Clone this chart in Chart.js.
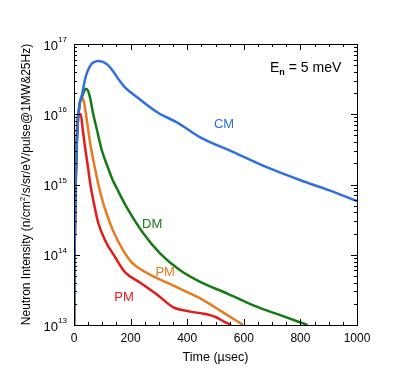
<!DOCTYPE html>
<html>
<head>
<meta charset="utf-8">
<script src="https://cdn.jsdelivr.net/npm/chart.js@4/dist/chart.umd.min.js"></script>
<style>
  body { margin: 0; background: #fff; }
  canvas { display: block; }
</style>
</head>
<body>
<canvas id="chartPulse" width="400" height="370"></canvas>
<script>
// pulse shapes (time in usec, intensity per pulse)
const cmTime = [0, 2, 6, 12, 20, 28, 42, 57, 70, 85, 100, 120, 138, 160, 181, 223, 297, 365, 446, 563, 683, 800, 900, 1000];
const cmVals = [1e13, 1.1e14, 1.1e15, 6e15, 1.4e16, 1.9e16, 3.5e16, 4.9e16, 5.5e16, 5.75e16, 5.6e16, 5e16, 4.1e16, 3.05e16, 2.4e16, 1.75e16, 1.05e16, 7.6e15, 4.7e15, 2.9e15, 1.75e15, 1.15e15, 8.3e14, 5.8e14];

const dmTime = [0, 2, 6, 12, 20, 28, 35, 42, 50, 57, 67, 81, 99, 120, 135, 152, 188, 244, 304, 375, 446, 542, 634, 729, 825];
const dmVals = [1e13, 1.1e14, 1.1e15, 6e15, 1.4e16, 1.75e16, 2.1e16, 2.3e16, 2.15e16, 1.7e16, 1.05e16, 6e15, 3e15, 1.74e15, 1.2e15, 8.7e14, 4.6e14, 2.04e14, 1.05e14, 6e13, 4.1e13, 2.8e13, 1.9e13, 1.38e13, 1e13];

const pmTime = [0, 2, 6, 12, 20, 28, 35, 45, 57, 74, 85, 100, 120, 138, 198, 258, 329, 411, 446, 517, 598];
const pmVals = [1e13, 1.1e14, 1.1e15, 6e15, 1.4e16, 1.7e16, 1.5e16, 8.5e15, 3.9e15, 1.7e15, 1.05e15, 6e14, 3.4e14, 2.2e14, 8.3e13, 5.5e13, 4e13, 2.8e13, 2.4e13, 1.6e13, 1e13];

const pm2Time = [0, 2, 6, 10, 14, 24, 30, 39, 50, 57, 70, 85, 110, 145, 181, 234, 294, 350, 411, 457, 500, 530, 555];
const pm2Vals = [1e13, 1e14, 1e15, 5e15, 1.0e16, 1.0e16, 6.5e15, 3.4e15, 1.7e15, 1.05e15, 5.5e14, 2.9e14, 1.6e14, 9.3e13, 5.6e13, 4e13, 2.7e13, 1.8e13, 1.55e13, 1.45e13, 1.3e13, 1.12e13, 1e13];

const xMajor = [0, 200, 400, 600, 800, 1000];
const yDecades = [13, 14, 15, 16, 17];

const curveLabels = [
  { text: 'CM', t: 530, v: 7.2e15, color: '#2f6fe0' },
  { text: 'DM', t: 276, v: 2.7e14, color: '#157a15' },
  { text: 'PM', t: 322, v: 5.6e13, color: '#e87a1e' },
  { text: 'PM', t: 177, v: 2.5e13, color: '#e41b1b' },
];

const pts = (ts, vs) => ts.map((t, i) => ({ x: t, y: vs[i] }));
const FONT = '"Liberation Sans", Arial, sans-serif';

const frame = {
  id: 'frame',
  afterDraw(chart) {
    const { ctx, chartArea: a, scales: { x, y } } = chart;
    ctx.save();
    ctx.strokeStyle = '#000';
    ctx.lineWidth = 1;
    ctx.strokeRect(a.left + 0.5, a.top + 0.5, a.right - a.left, a.bottom - a.top);

    ctx.beginPath();
    // x ticks every 50, major every 200, bottom and top, inward
    for (let t = 0; t <= 1000; t += 50) {
      const px = Math.round(x.getPixelForValue(t)) + 0.5;
      const len = t % 200 === 0 ? 6 : 3;
      ctx.moveTo(px, a.bottom); ctx.lineTo(px, a.bottom - len);
      ctx.moveTo(px, a.top); ctx.lineTo(px, a.top + len);
    }
    // y log ticks, left and right, inward
    for (const d of yDecades) {
      for (let m = 1; m <= 9; m++) {
        if (d === 17 && m > 1) break;
        const py = Math.round(y.getPixelForValue(m * Math.pow(10, d))) + 0.5;
        const len = m === 1 ? 6 : 3;
        ctx.moveTo(a.left, py); ctx.lineTo(a.left + len, py);
        ctx.moveTo(a.right, py); ctx.lineTo(a.right - len, py);
      }
    }
    ctx.stroke();

    ctx.fillStyle = '#000';
    ctx.font = '12px ' + FONT;
    ctx.textAlign = 'center';
    ctx.textBaseline = 'middle';
    xMajor.forEach(t => ctx.fillText(String(t), x.getPixelForValue(t), a.bottom + 14));
    ctx.font = '12.5px ' + FONT;
    ctx.fillText('Time (\u00b5sec)', (a.left + a.right) / 2, a.bottom + 33);

    yDecades.forEach(d => {
      const py = y.getPixelForValue(Math.pow(10, d));
      ctx.font = '13px ' + FONT;
      ctx.textAlign = 'right';
      ctx.textBaseline = 'middle';
      ctx.fillText('10', a.left - 16, py + 2);
      ctx.font = '8px ' + FONT;
      ctx.textAlign = 'left';
      ctx.fillText(String(d), a.left - 16, py - 4);
    });

    ctx.save();
    ctx.translate(27, (a.top + a.bottom) / 2);
    ctx.rotate(-Math.PI / 2);
    ctx.textBaseline = 'middle';
    ctx.font = '12px ' + FONT;
    const t1 = 'Neutron Intensity (n/cm', t2 = '/s/sr/eV/pulse@1MW&25Hz)';
    const w1 = ctx.measureText(t1).width, w2 = ctx.measureText(t2).width;
    ctx.font = '8px ' + FONT;
    const ws = ctx.measureText('2').width;
    const start = -(w1 + ws + w2) / 2;
    ctx.textAlign = 'left';
    ctx.font = '12px ' + FONT;
    ctx.fillText(t1, start, 0);
    ctx.fillText(t2, start + w1 + ws, 0);
    ctx.font = '8px ' + FONT;
    ctx.fillText('2', start + w1, -4);
    ctx.restore();

    // energy note
    ctx.textAlign = 'left';
    ctx.textBaseline = 'alphabetic';
    ctx.font = '14px ' + FONT;
    let ex = 270;
    ctx.fillText('E', ex, 72);
    ex += ctx.measureText('E').width;
    ctx.font = 'bold 9px ' + FONT;
    ctx.fillText('n', ex, 75);
    ex += ctx.measureText('n').width;
    ctx.font = '14px ' + FONT;
    ctx.fillText(' = 5 meV', ex, 72);

    ctx.font = '13px ' + FONT;
    ctx.textAlign = 'center';
    ctx.textBaseline = 'middle';
    curveLabels.forEach(l => {
      ctx.fillStyle = l.color;
      ctx.fillText(l.text, x.getPixelForValue(l.t), y.getPixelForValue(l.v));
    });
    ctx.restore();
  }
};

const line = (data, color) => ({
  data, borderColor: color, borderWidth: 2.5, pointRadius: 0, cubicInterpolationMode: 'monotone', fill: false,
});

new Chart(document.getElementById('chartPulse'), {
  type: 'line',
  data: {
    datasets: [
      line(pts(cmTime, cmVals), '#2f6fe0'),
      line(pts(dmTime, dmVals), '#157a15'),
      line(pts(pmTime, pmVals), '#e87a1e'),
      line(pts(pm2Time, pm2Vals), '#e41b1b'),
    ],
  },
  options: {
    responsive: false,
    animation: false,
    layout: { padding: { left: 74, right: 43, top: 44, bottom: 45 } },
    plugins: { legend: { display: false }, tooltip: { enabled: false } },
    scales: {
      x: { type: 'linear', min: 0, max: 1000, display: false },
      y: { type: 'logarithmic', min: 1e13, max: 1e17, display: false },
    },
  },
  plugins: [frame],
});
</script>
</body>
</html>
